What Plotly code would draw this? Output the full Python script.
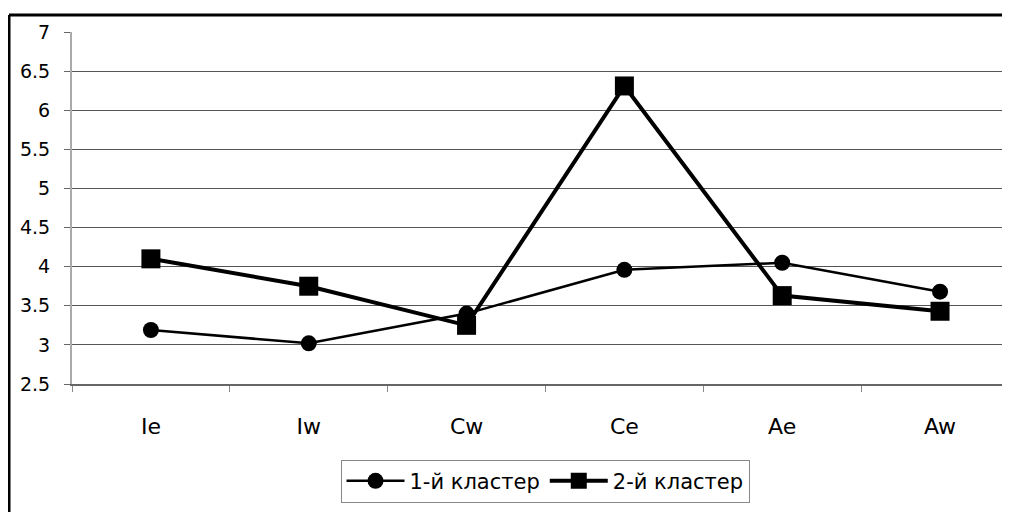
import plotly.graph_objects as go

categories = ["Ie", "Iw", "Cw", "Ce", "Ae", "Aw"]
cluster1 = [3.19, 3.02, 3.40, 3.96, 4.05, 3.68]
cluster2 = [4.10, 3.75, 3.25, 6.31, 3.63, 3.43]
series_names = ["1-й кластер", "2-й кластер"]
y_ticks = [2.5, 3, 3.5, 4, 4.5, 5, 5.5, 6, 6.5, 7]
y_tick_text = ["2.5", "3", "3.5", "4", "4.5", "5", "5.5", "6", "6.5", "7"]

fig = go.Figure()
fig.add_trace(go.Scatter(
    x=categories, y=cluster1, name=series_names[0], mode="lines+markers",
    line=dict(color="black", width=2.5),
    marker=dict(symbol="circle", size=16, color="black"),
))
fig.add_trace(go.Scatter(
    x=categories, y=cluster2, name=series_names[1], mode="lines+markers",
    line=dict(color="black", width=4),
    marker=dict(symbol="square", size=19, color="black"),
))

# page body has an 8px margin; plot area in page: x 72..1018, y 32..384
fig.update_layout(
    width=1010, height=512,
    margin=dict(l=64, r=0, t=24, b=136),
    paper_bgcolor="white", plot_bgcolor="white",
    font=dict(family="DejaVu Sans, Liberation Sans, sans-serif", color="black", size=19),
    showlegend=True,
    legend=dict(
        orientation="h", x=0.5, y=-0.276, xanchor="center", yanchor="middle",
        bordercolor="#888888", borderwidth=1, font=dict(size=21),
        itemwidth=58, tracegroupgap=0,
    ),
    xaxis=dict(
        type="category", range=[-0.5, 5.494],
        showgrid=False, showline=True, linecolor="#666666", linewidth=1.5,
        ticks="outside", tickson="boundaries", ticklen=6, tickcolor="#888888",
        ticklabelstandoff=22, tickfont=dict(size=22), zeroline=False,
    ),
    yaxis=dict(
        range=[2.5, 7], tickvals=y_ticks, ticktext=y_tick_text,
        showgrid=True, gridcolor="#555555", gridwidth=1,
        showline=True, linecolor="#aaaaaa", linewidth=2,
        ticks="outside", ticklen=6, tickcolor="#666666",
        ticklabelstandoff=10, tickfont=dict(size=19), zeroline=False,
    ),
)

# Outer chart border (left and top edges visible, right/bottom cropped)
fig.add_shape(type="line", xref="paper", yref="paper",
              x0=-63/946, x1=1.05, y0=(384-15)/352, y1=(384-15)/352,
              line=dict(color="black", width=3))
fig.add_shape(type="line", xref="paper", yref="paper",
              x0=-63/946, x1=-63/946, y0=(384-15)/352, y1=-0.45,
              line=dict(color="black", width=3))

fig.write_html("out.html")
